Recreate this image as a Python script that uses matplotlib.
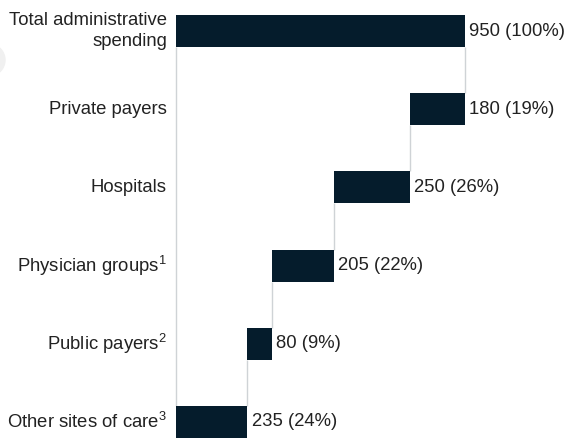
import numpy as np
import matplotlib.pyplot as plt
from matplotlib.patches import Ellipse

plt.rcParams['font.family'] = ['Liberation Sans', 'DejaVu Sans']
plt.rcParams['mathtext.fontset'] = 'custom'
plt.rcParams['mathtext.rm'] = 'Liberation Sans'
plt.rcParams['mathtext.default'] = 'regular'

categories = ['Total administrative\nspending', 'Private payers', 'Hospitals',
              'Physician groups$^1$', 'Public payers$^2$', 'Other sites of care$^3$']
values = [950, 180, 250, 205, 80, 235]
shares = [100, 19, 26, 22, 9, 24]

bar_color = '#051c2c'
line_color = '#cfd3d6'
text_color = '#222222'

W, H = 571, 438
fig = plt.figure(figsize=(W / 100, H / 100), dpi=100)

# left edge of each bar: the total starts at 0, the parts step down from the total
total = values[0]
lefts = [0]
right = total
for v in values[1:]:
    lefts.append(right - v)
    right -= v

y = np.arange(len(values))
row_px = 78.2
top_px = 31
ax = fig.add_axes([176 / W, 0, 289 / W, 1])
ax.set_xlim(0, total)
ax.set_ylim((H - top_px) / row_px, -top_px / row_px)
ax.axis('off')

bar_h = 0.41
ax.barh(y, values, left=lefts, height=bar_h, color=bar_color, zorder=3)

# connectors between steps
ax.vlines(0, y[0] + bar_h / 2, y[-1] - bar_h / 2, color=line_color, lw=1,
          zorder=1, clip_on=False)
for i in range(len(values) - 1):
    ax.vlines(lefts[i] + values[i] if i == 0 else lefts[i],
              y[i] + bar_h / 2, y[i + 1] - bar_h / 2,
              color=line_color, lw=1, zorder=1, clip_on=False)

fs = 13.3
for i, (v, s) in enumerate(zip(values, shares)):
    ax.annotate(f'{v} ({s}%)', (lefts[i] + v, y[i]), xytext=(3, 0),
                textcoords='offset points', ha='left', va='center',
                fontsize=fs, color=text_color)
    ax.annotate(categories[i], (0, y[i]), xytext=(-6.5, 0),
                textcoords='offset points', ha='right', va='center',
                fontsize=fs, color=text_color, linespacing=1.25)

# faint round shape at the left edge
fig.patches.append(Ellipse((-11 / W, (H - 60) / H), 32 / W, 32 / H,
                           transform=fig.transFigure, color='#f0f0f0', zorder=0))

fig.savefig('out.png', dpi=100)
